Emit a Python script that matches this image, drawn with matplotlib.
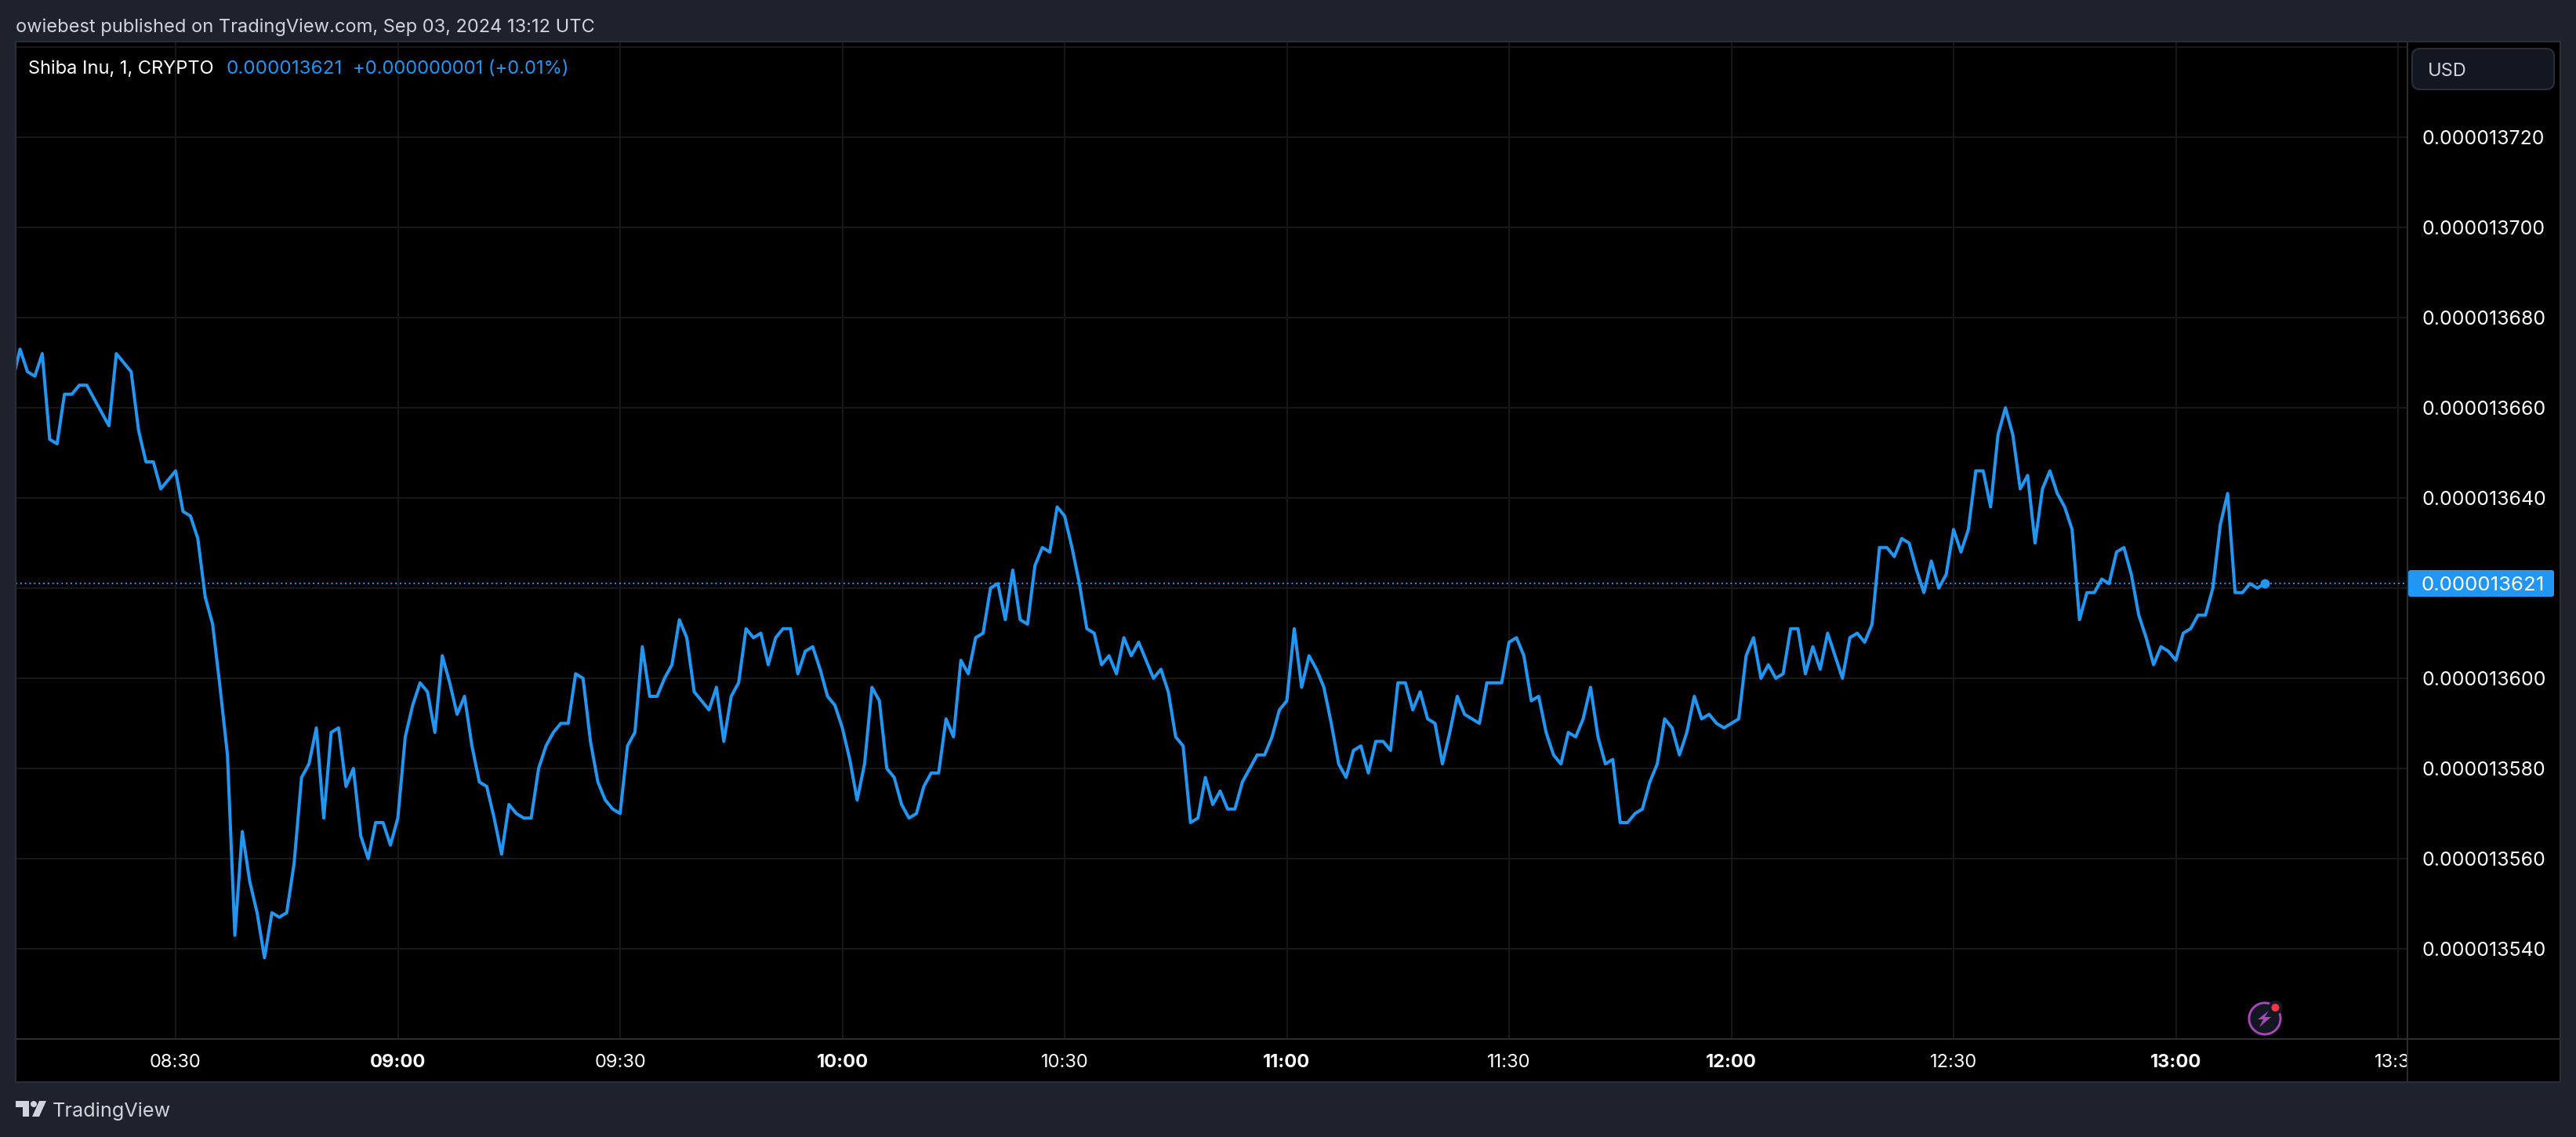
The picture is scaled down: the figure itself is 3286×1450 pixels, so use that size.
# -*- coding: utf-8 -*-
import numpy as np
import matplotlib
matplotlib.use('Agg')
import matplotlib.pyplot as plt
from matplotlib.patches import Circle, FancyBboxPatch, Polygon, Rectangle

plt.rcParams['font.family'] = ['Inter', 'DejaVu Sans']

W, H = 3286, 1450

# precio en unidades de 1e-9 USD, una barra por minuto desde las 08:08
START_MINUTE = 8 * 60 + 8
prices = [
    13666, 13673, 13668, 13667, 13672, 13653, 13652, 13663, 13663, 13665, 13665, 13662,
    13659, 13656, 13672, 13670, 13668, 13655, 13648, 13648, 13642, 13644,
    13646, 13637, 13636, 13631, 13618, 13612, 13598, 13583, 13543, 13566,
    13555, 13548, 13538, 13548, 13547, 13548, 13559, 13578, 13581, 13589,
    13569, 13588, 13589, 13576, 13580, 13565, 13560, 13568, 13568, 13563,
    13569, 13587, 13594, 13599, 13597, 13588, 13605, 13599, 13592, 13596,
    13585, 13577, 13576, 13569, 13561, 13572, 13570, 13569, 13569, 13580,
    13585, 13588, 13590, 13590, 13601, 13600, 13586, 13577, 13573, 13571,
    13570, 13585, 13588, 13607, 13596, 13596, 13600, 13603, 13613, 13609,
    13597, 13595, 13593, 13598, 13586, 13596, 13599, 13611, 13609, 13610,
    13603, 13609, 13611, 13611, 13601, 13606, 13607, 13602, 13596, 13594,
    13589, 13582, 13573, 13581, 13598, 13595, 13580, 13578, 13572, 13569,
    13570, 13576, 13579, 13579, 13591, 13587, 13604, 13601, 13609, 13610,
    13620, 13621, 13613, 13624, 13613, 13612, 13625, 13629, 13628, 13638,
    13636, 13629, 13621, 13611, 13610, 13603, 13605, 13601, 13609, 13605,
    13608, 13604, 13600, 13602, 13597, 13587, 13585, 13568, 13569, 13578,
    13572, 13575, 13571, 13571, 13577, 13580, 13583, 13583, 13587, 13593,
    13595, 13611, 13598, 13605, 13602, 13598, 13590, 13581, 13578, 13584,
    13585, 13579, 13586, 13586, 13584, 13599, 13599, 13593, 13597, 13591,
    13590, 13581, 13588, 13596, 13592, 13591, 13590, 13599, 13599, 13599,
    13608, 13609, 13605, 13595, 13596, 13588, 13583, 13581, 13588, 13587,
    13591, 13598, 13587, 13581, 13582, 13568, 13568, 13570, 13571, 13577,
    13581, 13591, 13589, 13583, 13588, 13596, 13591, 13592, 13590, 13589,
    13590, 13591, 13605, 13609, 13600, 13603, 13600, 13601, 13611, 13611,
    13601, 13607, 13602, 13610, 13605, 13600, 13609, 13610, 13608, 13612,
    13629, 13629, 13627, 13631, 13630, 13624, 13619, 13626, 13620, 13623,
    13633, 13628, 13633, 13646, 13646, 13638, 13654, 13660, 13654, 13642,
    13645, 13630, 13642, 13646, 13641, 13638, 13633, 13613, 13619, 13619,
    13622, 13621, 13628, 13629, 13623, 13614, 13609, 13603, 13607, 13606,
    13604, 13610, 13611, 13614, 13614, 13620, 13634, 13641, 13619, 13619,
    13621, 13620, 13621,
]
last_price = 13621
price_ticks = [13540, 13560, 13580, 13600, 13620, 13640, 13660, 13680, 13700, 13720, 13740]
price_labels = ['0.000013540', '0.000013560', '0.000013580', '0.000013600', '0.000013640',
                '0.000013660', '0.000013680', '0.000013700', '0.000013720']
price_label_ticks = [13540, 13560, 13580, 13600, 13640, 13660, 13680, 13700, 13720]
time_labels = ['08:30', '09:00', '09:30', '10:00', '10:30', '11:00', '11:30', '12:00', '12:30',
               '13:00', '13:30']

BG = '#1e222d'
BORDER = '#2a2e39'
DIVIDER = '#2c2c30'
GRID = '#171717'
BLUE = '#2196f3'
TEXT = '#d1d4dc'


def px_axes(fig, x0, y0, x1, y1):
    # caja en pixeles de la imagen (origen arriba a la izquierda)
    return fig.add_axes([x0 / W, 1 - y1 / H, (x1 - x0) / W, (y1 - y0) / H])


def to_minutes(label):
    hh, mm = label.split(':')
    return int(hh) * 60 + int(mm)


def draw_chart(ax):
    minutes = START_MINUTE + np.arange(len(prices))
    ticks = [to_minutes(t) for t in time_labels]

    # 08:30 en x=224 y 9.45 px por minuto; 13720 en y=175 y 5.75 px por unidad
    ax.set_xlim(510 + (20 - 224) / 9.45, 510 + (3070 - 224) / 9.45)
    ax.set_ylim(13720 - (1325 - 175) / 5.75, 13720 - (53 - 175) / 5.75)
    ax.set_facecolor('black')
    ax.set_xticks(ticks)
    ax.set_yticks(price_ticks)
    ax.grid(True, color=GRID, linewidth=1.5)
    ax.set_axisbelow(True)
    ax.tick_params(length=0, labelbottom=False, labelleft=False)
    for s in ax.spines.values():
        s.set_visible(False)

    ax.axhline(last_price, color=BLUE, linewidth=1.4, linestyle=(0, (1, 2)), zorder=2)
    ax.plot(minutes, prices, color=BLUE, linewidth=2.9, solid_joinstyle='round', zorder=3)
    ax.plot(minutes[-1], prices[-1], 'o', color=BLUE, markersize=8.6, markeredgewidth=0, zorder=4)
    return ticks


def draw_time_axis(tax, ax, ticks):
    tax.set_xlim(ax.get_xlim())
    tax.set_ylim(0, 1)
    tax.set_facecolor('black')
    tax.set_xticks([])
    tax.set_yticks([])
    for s in tax.spines.values():
        s.set_visible(False)
    for tick, label in zip(ticks, time_labels):
        bold = label.endswith(':00')
        tax.text(tick, 0.5, label, color='white', fontsize=17, ha='center', va='center_baseline',
                 fontweight='bold' if bold else 'normal', clip_on=True)


def draw_price_axis(pax, ax):
    pax.set_xlim(3071, 3266)
    pax.set_ylim(ax.get_ylim())
    pax.set_facecolor('black')
    pax.set_xticks([])
    pax.set_yticks(price_label_ticks)
    pax.set_yticklabels(price_labels)
    pax.yaxis.tick_left()
    pax.tick_params(axis='y', length=0, direction='in', pad=-13, labelcolor='white', labelsize=17.9)
    for t in pax.get_yticklabels():
        t.set_ha('left')
    for s in pax.spines.values():
        s.set_visible(False)


def draw_chrome(ov):
    # capa en pixeles: marcos, textos de cabecera, etiqueta de precio, iconos
    ov.set_xlim(0, W)
    ov.set_ylim(H, 0)
    ov.axis('off')
    ov.patch.set_alpha(0)

    ov.add_patch(Rectangle((20, 53), 3246, 1327, fill=False, edgecolor=BORDER, linewidth=1.5))
    ov.plot([3070.5, 3070.5], [53, 1380], color=DIVIDER, linewidth=1.5)
    ov.plot([20, 3266], [1325, 1325], color=DIVIDER, linewidth=1.5)

    ov.text(20, 32, 'owiebest published on TradingView.com, Sep 03, 2024 13:12 UTC',
            color=TEXT, fontsize=17, va='center_baseline')
    ov.text(36, 85, 'Shiba Inu, 1, CRYPTO', color='white', fontsize=17, va='center_baseline')
    ov.text(289, 85, '0.000013621', color=BLUE, fontsize=17.4, va='center_baseline')
    ov.text(450, 85, '+0.000000001 (+0.01%)', color=BLUE, fontsize=17.1, va='center_baseline')

    ov.add_patch(FancyBboxPatch((3077, 62), 181, 52, boxstyle='round,pad=0,rounding_size=10',
                                facecolor='#131722', edgecolor=BORDER, linewidth=1.5, zorder=5))
    ov.text(3097, 88, 'USD', color=TEXT, fontsize=17, va='center_baseline', zorder=6)

    ov.add_patch(FancyBboxPatch((3072, 727), 186, 34, boxstyle='round,pad=0,rounding_size=3',
                                facecolor=BLUE, edgecolor='none', zorder=5))
    ov.text(3089, 744, '0.000013621', color='white', fontsize=18.6, va='center_baseline', zorder=6)

    # icono del rayo
    ov.add_patch(Circle((2889, 1299), 22, facecolor='#131722', edgecolor='none', zorder=5))
    ov.add_patch(Circle((2889, 1299), 20, facecolor='#131722', edgecolor='#ab47bc', linewidth=2, zorder=6))
    ov.add_patch(Polygon([(2894, 1289), (2880, 1300), (2887, 1300), (2882, 1310), (2897, 1297), (2889, 1297)],
                         closed=True, facecolor='#ab47bc', edgecolor='none', zorder=7))
    ov.add_patch(Circle((2902.5, 1285), 9, facecolor='#131722', edgecolor='none', zorder=7))
    ov.add_patch(Circle((2902.5, 1285), 5, facecolor='#f23645', edgecolor='none', zorder=8))

    # logo
    ov.add_patch(Polygon([(20, 1404), (37, 1404), (37, 1424), (29, 1424), (29, 1412), (20, 1412)],
                         closed=True, facecolor=TEXT, edgecolor='none'))
    ov.add_patch(Circle((43, 1408), 4, facecolor=TEXT, edgecolor='none'))
    ov.add_patch(Polygon([(50, 1404), (59, 1404), (50, 1424), (41, 1424)],
                         closed=True, facecolor=TEXT, edgecolor='none'))
    ov.text(67, 1415, 'TradingView', color=TEXT, fontsize=18.2, va='center_baseline')


def main():
    fig = plt.figure(figsize=(W / 100, H / 100), dpi=100, facecolor=BG)
    ax = px_axes(fig, 20, 53, 3070, 1325)
    ticks = draw_chart(ax)
    tax = px_axes(fig, 20, 1325, 3070, 1380)
    draw_time_axis(tax, ax, ticks)
    pax = px_axes(fig, 3071, 53, 3266, 1380)
    ylo, yhi = ax.get_ylim()
    pax_limits = (ylo - (1380 - 1325) / 5.75, yhi)
    draw_price_axis(pax, ax)
    pax.set_ylim(pax_limits)
    ov = px_axes(fig, 0, 0, W, H)
    draw_chrome(ov)
    fig.savefig('out.png', dpi=100, facecolor=BG)
    plt.close(fig)


if __name__ == '__main__':
    main()
